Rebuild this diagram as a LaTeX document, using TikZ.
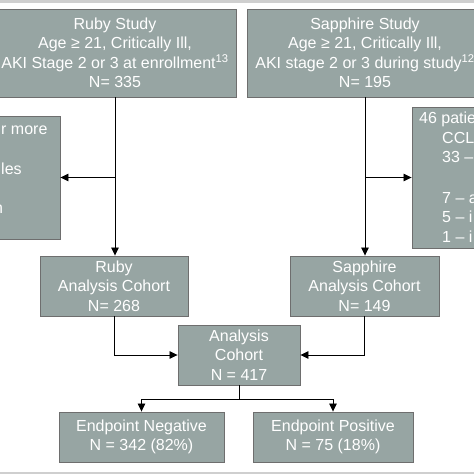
\documentclass[tikz,border=0pt]{standalone}
\usepackage{fontspec}
\setmainfont{Liberation Sans}
\usetikzlibrary{arrows.meta}
\definecolor{boxfill}{HTML}{97A5A3}
\definecolor{boxline}{HTML}{6E6E6E}
\definecolor{strip}{HTML}{CFCFCF}
\tikzset{
  flowbox/.style={draw=boxline, line width=0.9pt, fill=boxfill, text=white, inner sep=0pt,
    align=center, font=\fontsize{16}{19.5}\selectfont},
  sidetext/.style={text=white, inner sep=0pt, anchor=west, font=\fontsize{16}{19.5}\selectfont},
  arr/.style={draw=black, line width=0.8pt, -{Triangle[length=8pt,width=7.5pt]}},
  plain/.style={draw=black, line width=0.8pt}
}
\begin{document}
\begin{tikzpicture}[x=1pt,y=-1pt]
\useasboundingbox (0,0) rectangle (474,474);
\clip (0,0) rectangle (474,474);
\fill[white] (0,0) rectangle (474,474);
\fill[strip] (0,0) rectangle (474,2.5);
\fill[strip] (0,471.5) rectangle (474,474);

\node[flowbox, minimum width=242pt, minimum height=88pt] (rs) at (115,53)
  {Ruby Study\\Age ≥ 21, Critically Ill,\\AKI Stage 2 or 3 at enrollment\textsuperscript{13}\\N= 335};
\node[flowbox, minimum width=236pt, minimum height=88pt] (ss) at (365,53)
  {Sapphire Study\\Age ≥ 21, Critically Ill,\\AKI stage 2 or 3 during study\textsuperscript{12}\\N= 195};

\node[flowbox, minimum width=70pt, minimum height=123pt] (lb) at (25,177.5) {};
\node[sidetext] (l1) at (1,130) {r more};
\node[sidetext] (l2) at (1,169) {les};
\node[sidetext] (l3) at (-6,209) {n};

\node[flowbox, minimum width=80pt, minimum height=141pt] (rb) at (452,177.5) {};
\node[sidetext] (r1) at (419,119) {46 patie};
\node[sidetext] (r2) at (442,138) {CCL};
\node[sidetext] (r3) at (442,157) {33 –};
\node[sidetext] (r4) at (442,198) {7 – a};
\node[sidetext] (r5) at (442,217) {5 – i};
\node[sidetext] (r6) at (442,237) {1 – i};

\node[flowbox, minimum width=148pt, minimum height=60pt] (rac) at (114,286)
  {Ruby\\Analysis Cohort\\N= 268};
\node[flowbox, minimum width=149pt, minimum height=60pt] (sac) at (364.5,286)
  {Sapphire\\Analysis Cohort\\N= 149};
\node[flowbox, minimum width=122pt, minimum height=60pt] (an) at (239,355)
  {Analysis\\Cohort\\N = 417};
\node[flowbox, minimum width=165pt, minimum height=50pt] (en) at (141.5,437)
  {Endpoint Negative\\N = 342 (82\%)};
\node[flowbox, minimum width=160pt, minimum height=50pt] (ep) at (333,437)
  {Endpoint Positive\\N = 75 (18\%)};

\draw[arr] (rs.south) -- (rs.south |- rac.north);
\draw[arr] (rs.south |- lb.east) -- (lb.east);
\draw[arr] (ss.south) -- (ss.south |- sac.north);
\draw[arr] (ss.south |- rb.west) -- (rb.west);

\draw[arr] (rac.south) -- (rac.south |- an.west) -- (an.west);
\draw[arr] (sac.south) -- (sac.south |- an.east) -- (an.east);

\coordinate (split) at ([yshift=-14pt]an.south);
\draw[plain] (an.south) -- (split);
\draw[arr] (split) -| (en.north);
\draw[arr] (split) -| (ep.north);
\end{tikzpicture}
\end{document}
